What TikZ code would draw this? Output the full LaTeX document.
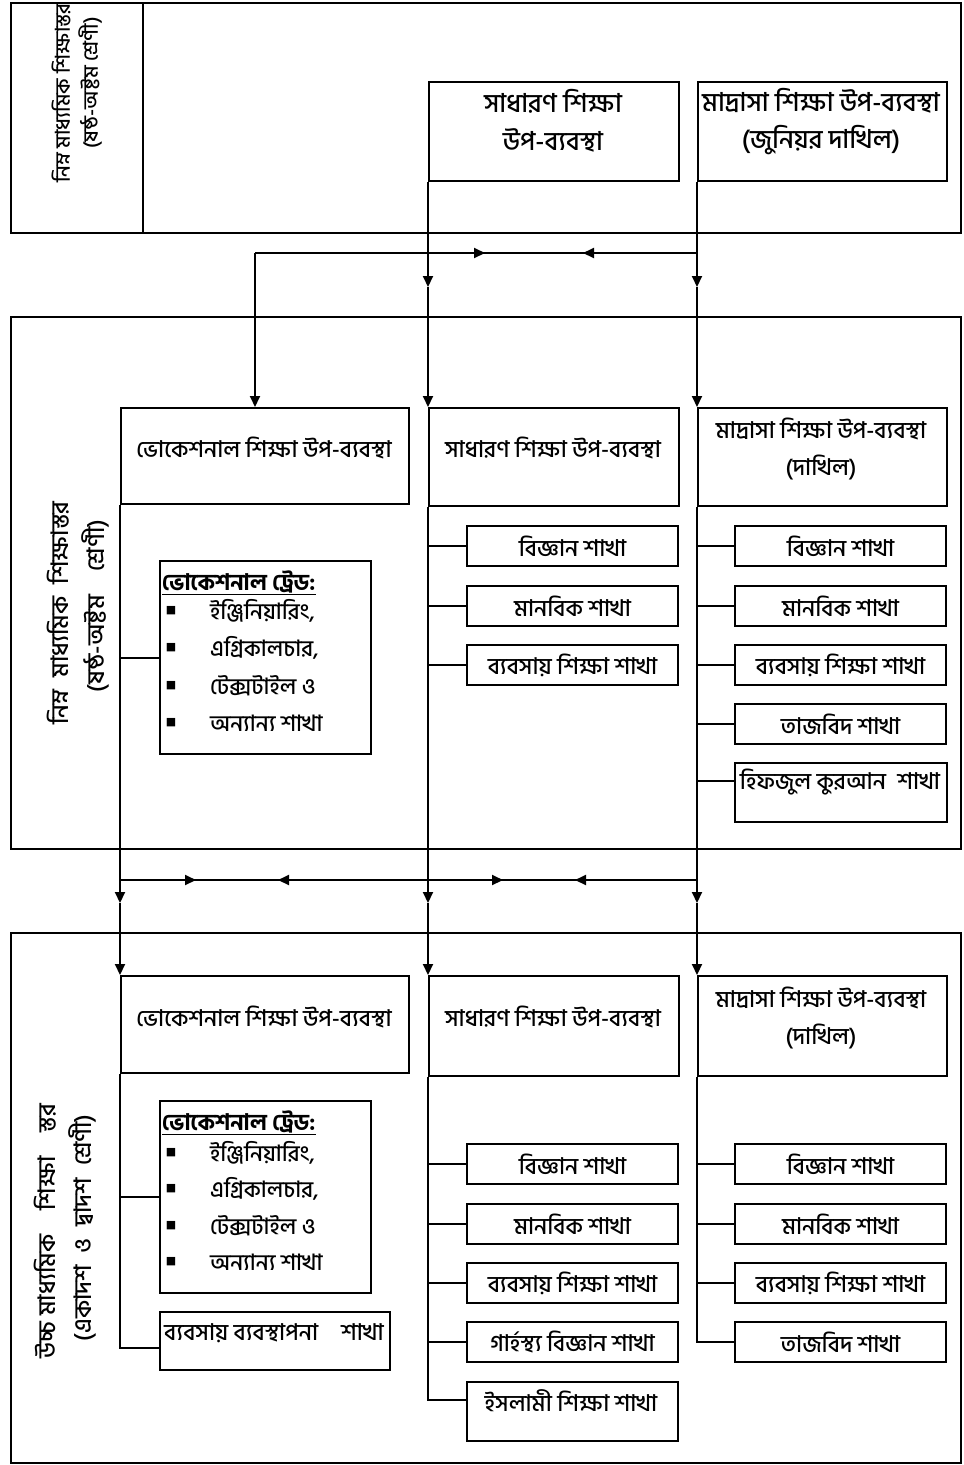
\documentclass[tikz,border=0pt]{standalone}
\usepackage{fontspec}
\newfontfamily\bn[Script=Bengali,UprightFont=* Medium,BoldFont=* Bold]{Hind Siliguri}
\newfontfamily\sym{DejaVu Sans}
\usetikzlibrary{arrows.meta,calc}
\begin{document}
\begin{tikzpicture}[x=1pt,y=-1pt,
  txt/.style={font=\bn\fontsize{23}{26}\selectfont, inner sep=0pt},
  ttxt/.style={font=\bn\fontsize{26}{28}\selectfont, inner sep=0pt},
  ltxt/.style={font=\bn\fontsize{22.5}{26}\selectfont, inner sep=0pt, anchor=west},
  rtxt/.style={font=\bn\fontsize{24}{26}\selectfont, inner sep=0pt, rotate=90},
  sect/.style={draw,line width=2pt,inner sep=0pt,anchor=north west,minimum width=950pt},
  bx/.style={draw,line width=2pt,inner sep=0pt,anchor=north west},
  br/.style={bx,minimum width=211pt,minimum height=40pt,font=\bn\fontsize{23}{26}\selectfont},
  ln/.style={line width=2pt},
  thinln/.style={line width=1.2pt},
  thickln/.style={line width=2.6pt},
  tip/.style={line width=2pt,-{Triangle[length=11pt,width=10pt]}},
  bul/.style={font=\sym\fontsize{11}{11}\selectfont, inner sep=0pt},
]
\useasboundingbox[fill=white] (0,0) rectangle (964,1465);

% ---------------- Section A ----------------
\node[sect,minimum height=230pt] (secA) at (10,2) {};
\coordinate (dA1) at (143,2); \coordinate (dA2) at (143,232);
\draw[line width=2pt] (dA1) -- (dA2);
\node[rtxt,font=\bn\fontsize{20.5}{22}\selectfont] (tA1) at (61,93) {নিম্ন মাধ্যমিক শিক্ষাস্তর};
\node[rtxt,font=\bn\fontsize{20.5}{22}\selectfont] (tA2) at (90,83) {(ষষ্ঠ-অষ্টম শ্রেণী)};

\node[bx,minimum width=250pt,minimum height=99pt] (g1) at (428,81) {};
\node[ttxt] (g1a) at (553,101) {সাধারণ শিক্ষা};
\node[ttxt] (g1b) at (553,140) {উপ-ব্যবস্থা};
\node[bx,minimum width=249pt,minimum height=99pt] (m1) at (697,81) {};
\node[ttxt] (m1a) at (821,101) {মাদ্রাসা শিক্ষা উপ-ব্যবস্থা};
\node[ttxt] (m1b) at (821,140) {(জুনিয়র দাখিল)};

% ---------------- Section B ----------------
\node[sect,minimum height=532pt] (secB) at (10,316) {};
\node[rtxt] (tB1) at (58,613) {নিম্ন\enspace মাধ্যমিক\enspace শিক্ষাস্তর};
\node[rtxt] (tB2) at (95,606) {(ষষ্ঠ-অষ্টম\quad শ্রেণী)};

\node[bx,minimum width=288pt,minimum height=96pt] (v2) at (120,407) {};
\node[txt] (v2t) at (264,448) {ভোকেশনাল শিক্ষা উপ-ব্যবস্থা};
\node[bx,minimum width=250pt,minimum height=98pt] (g2) at (428,407) {};
\node[txt] (g2t) at (553,448) {সাধারণ শিক্ষা উপ-ব্যবস্থা};
\node[bx,minimum width=249pt,minimum height=98pt] (m2) at (697,407) {};
\node[txt] (m2a) at (821,429) {মাদ্রাসা শিক্ষা উপ-ব্যবস্থা};
\node[txt] (m2b) at (821,467) {(দাখিল)};

\node[br] (gb1) at (466,525) {বিজ্ঞান শাখা};
\node[br] (gb2) at (466,585) {মানবিক শাখা};
\node[br] (gb3) at (466,644) {ব্যবসায় শিক্ষা শাখা};

\node[br] (mb1) at (734,525) {বিজ্ঞান শাখা};
\node[br] (mb2) at (734,585) {মানবিক শাখা};
\node[br] (mb3) at (734,644) {ব্যবসায় শিক্ষা শাখা};
\node[br] (mb4) at (734,703) {তাজবিদ শাখা};
\node[bx,minimum width=212pt,minimum height=59pt] (mb5) at (734,762) {};
\node[txt] (mb5t) at (840,782) {হিফজুল কুরআন\enspace শাখা};

\node[bx,minimum width=211pt,minimum height=193pt] (trB) at (159,560) {};
\node[txt,anchor=west,font=\bn\bfseries\fontsize{22.5}{26}\selectfont] (trBh) at (162,583) {\underline{ভোকেশনাল ট্রেড:}};
\node[bul] (trBb1) at (171,611) {■};
\node[bul] (trBb2) at (171,648) {■};
\node[bul] (trBb3) at (171,686) {■};
\node[bul] (trBb4) at (171,723) {■};
\node[ltxt] (trB1) at (210,611) {ইঞ্জিনিয়ারিং,};
\node[ltxt] (trB2) at (210,648) {এগ্রিকালচার,};
\node[ltxt] (trB3) at (210,686) {টেক্সটাইল ও};
\node[ltxt] (trB4) at (210,723) {অন্যান্য শাখা};

% ---------------- Section C ----------------
\node[sect,minimum height=530pt] (secC) at (10,932) {};
\node[rtxt] (tC1) at (45,1231) {উচ্চ মাধ্যমিক\quad শিক্ষা\quad স্তর};
\node[rtxt] (tC2) at (82,1228) {(একাদশ\enspace ও\enspace দ্বাদশ\enspace শ্রেণী)};

\node[bx,minimum width=288pt,minimum height=97pt] (v3) at (120,975) {};
\node[txt] (v3t) at (264,1017) {ভোকেশনাল শিক্ষা উপ-ব্যবস্থা};
\node[bx,minimum width=250pt,minimum height=100pt] (g3) at (428,975) {};
\node[txt] (g3t) at (553,1017) {সাধারণ শিক্ষা উপ-ব্যবস্থা};
\node[bx,minimum width=249pt,minimum height=100pt] (m3) at (697,975) {};
\node[txt] (m3a) at (821,998) {মাদ্রাসা শিক্ষা উপ-ব্যবস্থা};
\node[txt] (m3b) at (821,1036) {(দাখিল)};

\node[br] (gc1) at (466,1143) {বিজ্ঞান শাখা};
\node[br] (gc2) at (466,1203) {মানবিক শাখা};
\node[br] (gc3) at (466,1262) {ব্যবসায় শিক্ষা শাখা};
\node[br] (gc4) at (466,1321) {গার্হস্থ্য বিজ্ঞান শাখা};
\node[bx,minimum width=211pt,minimum height=59pt] (gc5) at (466,1381) {};
\node[txt] (gc5t) at (571,1401) {ইসলামী শিক্ষা শাখা};

\node[br] (mc1) at (734,1143) {বিজ্ঞান শাখা};
\node[br] (mc2) at (734,1203) {মানবিক শাখা};
\node[br] (mc3) at (734,1262) {ব্যবসায় শিক্ষা শাখা};
\node[br] (mc4) at (734,1321) {তাজবিদ শাখা};

\node[bx,minimum width=211pt,minimum height=192pt] (trC) at (159,1100) {};
\node[txt,anchor=west,font=\bn\bfseries\fontsize{22.5}{26}\selectfont] (trCh) at (162,1123) {\underline{ভোকেশনাল ট্রেড:}};
\node[bul] (trCb1) at (171,1153) {■};
\node[bul] (trCb2) at (171,1189) {■};
\node[bul] (trCb3) at (171,1226) {■};
\node[bul] (trCb4) at (171,1262) {■};
\node[ltxt] (trC1) at (210,1153) {ইঞ্জিনিয়ারিং,};
\node[ltxt] (trC2) at (210,1189) {এগ্রিকালচার,};
\node[ltxt] (trC3) at (210,1226) {টেক্সটাইল ও};
\node[ltxt] (trC4) at (210,1262) {অন্যান্য শাখা};

\node[bx,minimum width=230pt,minimum height=58pt] (bm) at (159,1311) {};
\node[txt] (bmt) at (274,1333) {ব্যবসায় ব্যবস্থাপনা\quad শাখা};

% ---------------- Connectors A -> B ----------------
\coordinate (hA) at (255,253);
\coordinate (hAr) at (697,253);
\coordinate (aT1) at (485,253);
\coordinate (aT2) at (583,253);
\coordinate (aT3) at (620,253);
\coordinate (gA) at (428,287);
\coordinate (mA) at (697,287);
\draw[tip] (g1.south west) -- (gA);
\draw[tip] (gA) -- (g2.north west);
\draw[tip] (m1.south west) -- (mA);
\draw[tip] (mA) -- (m2.north west);
\draw[thinln] (hAr) -- (hA);
\draw[thickln] (aT1) -- (aT3);
\draw[tip] (hA) -- (aT1);
\draw[tip] (aT3) -- (aT2);
\draw[tip] (hA) -- (hA |- v2.north);

% ---------------- Branches B ----------------
\draw[ln] (gb1.west -| g2.south west) -- (gb1.west);
\draw[ln] (gb2.west -| g2.south west) -- (gb2.west);
\draw[ln] (gb3.west -| g2.south west) -- (gb3.west);
\draw[ln] (mb1.west -| m2.south west) -- (mb1.west);
\draw[ln] (mb2.west -| m2.south west) -- (mb2.west);
\draw[ln] (mb3.west -| m2.south west) -- (mb3.west);
\draw[ln] (mb4.west -| m2.south west) -- (mb4.west);
\coordinate (mb5c) at (734,781);
\draw[ln] (mb5c -| m2.south west) -- (mb5c);
\draw[ln] (trB.west -| v2.south west) -- (trB.west);

% ---------------- Connectors B -> C ----------------
\coordinate (jv) at (120,880);
\coordinate (jg) at (428,880);
\coordinate (jm) at (697,880);
\coordinate (kv) at (120,903);
\coordinate (kg) at (428,903);
\coordinate (km) at (697,903);
\coordinate (b1) at (196,880);
\coordinate (b2) at (278,880);
\coordinate (b3) at (503,880);
\coordinate (b4) at (575,880);
\coordinate (b5) at (600,880);
\draw[ln] (v2.south west) -- (jv);
\draw[ln] (g2.south west) -- (jg);
\draw[ln] (m2.south west) -- (jm);
\draw[tip] (jv) -- (kv);
\draw[tip] (kv) -- (v3.north west);
\draw[tip] (jg) -- (kg);
\draw[tip] (kg) -- (g3.north west);
\draw[tip] (jm) -- (km);
\draw[tip] (km) -- (m3.north west);
\draw[thinln] (jv) -- (jm);
\draw[thickln] (b2) -- (b5);
\draw[tip] (jv) -- (b1);
\draw[tip] (jg) -- (b2);
\draw[tip] (jg) -- (b3);
\draw[tip] (b5) -- (b4);

% ---------------- Branches C ----------------
\coordinate (gc5c) at (466,1400);
\draw[ln] (g3.south west) |- (gc5c);
\draw[ln] (gc1.west -| g3.south west) -- (gc1.west);
\draw[ln] (gc2.west -| g3.south west) -- (gc2.west);
\draw[ln] (gc3.west -| g3.south west) -- (gc3.west);
\draw[ln] (gc4.west -| g3.south west) -- (gc4.west);
\draw[ln] (m3.south west) |- (mc4.west);
\draw[ln] (mc1.west -| m3.south west) -- (mc1.west);
\draw[ln] (mc2.west -| m3.south west) -- (mc2.west);
\draw[ln] (mc3.west -| m3.south west) -- (mc3.west);
\coordinate (bmc) at (159,1348);
\draw[ln] (v3.south west) |- (bmc);
\draw[ln] (trC.west -| v3.south west) -- (trC.west);
\end{tikzpicture}
\end{document}
